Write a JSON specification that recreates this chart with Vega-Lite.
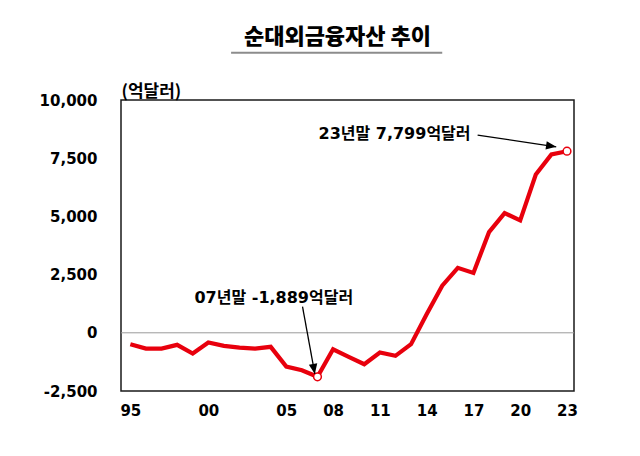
{
  "$schema": "https://vega.github.io/schema/vega-lite/v6.json",
  "width": 453,
  "height": 291,
  "autosize": {"type": "none"},
  "padding": {"left": 121, "top": 100, "right": 66, "bottom": 65},
  "background": "white",
  "config": {"view": {"stroke": "#1a1a1a", "strokeWidth": 1.5}},
  "title": {
    "text": "순대외금융자산 추이",
    "font": "Noto Sans CJK KR",
    "fontSize": 22,
    "fontWeight": 900,
    "color": "#000",
    "anchor": "middle",
    "frame": "group",
    "dx": -10,
    "baseline": "alphabetic",
    "offset": -14
  },
  "datasets": {
    "series": [
      {"year": 1995, "value": -490},
      {"year": 1996, "value": -677},
      {"year": 1997, "value": -677},
      {"year": 1998, "value": -517},
      {"year": 1999, "value": -892},
      {"year": 2000, "value": -418},
      {"year": 2001, "value": -560},
      {"year": 2002, "value": -634},
      {"year": 2003, "value": -677},
      {"year": 2004, "value": -603},
      {"year": 2005, "value": -1453},
      {"year": 2006, "value": -1608},
      {"year": 2007, "value": -1889},
      {"year": 2008, "value": -710},
      {"year": 2009, "value": -1030},
      {"year": 2010, "value": -1350},
      {"year": 2011, "value": -848},
      {"year": 2012, "value": -991},
      {"year": 2013, "value": -487},
      {"year": 2014, "value": 800},
      {"year": 2015, "value": 2026},
      {"year": 2016, "value": 2789},
      {"year": 2017, "value": 2573},
      {"year": 2018, "value": 4323},
      {"year": 2019, "value": 5142},
      {"year": 2020, "value": 4828},
      {"year": 2021, "value": 6797},
      {"year": 2022, "value": 7659},
      {"year": 2023, "value": 7799}
    ],
    "arrows": [
      {"id": "a07", "year": 2006.04, "value": 1121, "year2": 2006.83, "value2": -1767},
      {"id": "a23", "year": 2017.27, "value": 8491, "year2": 2022.31, "value2": 7987}
    ],
    "notes": [
      {"label": "07년말 -1,889억달러", "year": 2004.2, "value": 1509},
      {"label": "23년말 7,799억달러", "year": 2011.94, "value": 8534}
    ],
    "zero": [{"value": 0}],
    "underline": [{"year": 2001.46, "year2": 2015.0, "value": 12026}]
  },
  "layer": [
    {
      "data": {"name": "zero"},
      "mark": {"type": "rule", "color": "#9a9a9a", "strokeWidth": 1},
      "encoding": {
        "y": {
          "field": "value", "type": "quantitative",
          "scale": {"domain": [-2500, 10000], "nice": false, "zero": false},
          "axis": {
            "values": [-2500, 0, 2500, 5000, 7500, 10000],
            "labelExpr": "datum.value < 0 ? '-' + format(-datum.value, ',') : format(datum.value, ',')",
            "grid": false, "domain": false, "ticks": false, "tickSize": 0,
            "labelFont": "DejaVu Sans", "labelFontSize": 15, "labelFontWeight": "bold",
            "labelColor": "#000", "labelPadding": 24,
            "title": "(억달러)", "titleAngle": 0, "titleAlign": "left", "titleBaseline": "alphabetic",
            "titleX": 0, "titleY": -4, "titleFont": "Noto Sans CJK KR", "titleFontSize": 17,
            "titleFontWeight": "bold", "titleColor": "#000"
          }
        }
      }
    },
    {
      "data": {"name": "series"},
      "mark": {"type": "line", "color": "#e8000d", "strokeWidth": 4.2},
      "encoding": {
        "x": {
          "field": "year", "type": "quantitative",
          "scale": {"domain": [1994.4, 2023.45], "nice": false, "zero": false},
          "axis": {
            "values": [1995, 2000, 2005, 2008, 2011, 2014, 2017, 2020, 2023],
            "labelExpr": "slice(toString(datum.value), 2)",
            "title": null, "grid": false, "domain": false, "ticks": false, "tickSize": 0,
            "labelFont": "DejaVu Sans", "labelFontSize": 15, "labelFontWeight": "bold",
            "labelColor": "#000", "labelPadding": 12
          }
        },
        "y": {
          "field": "value", "type": "quantitative",
          "scale": {"domain": [-2500, 10000], "nice": false, "zero": false}
        }
      }
    },
    {
      "data": {"name": "series"},
      "transform": [{"filter": "datum.year == 2007 || datum.year == 2023"}],
      "mark": {"type": "point", "shape": "circle", "filled": true, "fill": "white", "stroke": "#e8000d", "strokeWidth": 1.5, "size": 60, "opacity": 1},
      "encoding": {
        "x": {"field": "year", "type": "quantitative", "scale": {"domain": [1994.4, 2023.45], "nice": false, "zero": false}},
        "y": {"field": "value", "type": "quantitative", "scale": {"domain": [-2500, 10000], "nice": false, "zero": false}}
      }
    },
    {
      "data": {"name": "arrows"},
      "mark": {"type": "rule", "color": "#000", "strokeWidth": 1.3},
      "encoding": {
        "x": {"field": "year", "type": "quantitative", "scale": {"domain": [1994.4, 2023.45], "nice": false, "zero": false}},
        "y": {"field": "value", "type": "quantitative", "scale": {"domain": [-2500, 10000], "nice": false, "zero": false}},
        "x2": {"field": "year2"},
        "y2": {"field": "value2"}
      }
    },
    {
      "data": {"name": "arrows"},
      "transform": [{"filter": "datum.id == 'a07'"}],
      "mark": {"type": "point", "shape": "M0,0 L-0.5,-1.2 L0.5,-1.2 Z", "filled": true, "color": "#000", "size": 289, "angle": 350, "opacity": 1},
      "encoding": {
        "x": {"field": "year2", "type": "quantitative", "scale": {"domain": [1994.4, 2023.45], "nice": false, "zero": false}},
        "y": {"field": "value2", "type": "quantitative", "scale": {"domain": [-2500, 10000], "nice": false, "zero": false}}
      }
    },
    {
      "data": {"name": "arrows"},
      "transform": [{"filter": "datum.id == 'a23'"}],
      "mark": {"type": "point", "shape": "M0,0 L-0.5,-1.2 L0.5,-1.2 Z", "filled": true, "color": "#000", "size": 289, "angle": 278.4, "opacity": 1},
      "encoding": {
        "x": {"field": "year2", "type": "quantitative", "scale": {"domain": [1994.4, 2023.45], "nice": false, "zero": false}},
        "y": {"field": "value2", "type": "quantitative", "scale": {"domain": [-2500, 10000], "nice": false, "zero": false}}
      }
    },
    {
      "data": {"name": "notes"},
      "mark": {"type": "text", "font": "'DejaVu Sans', 'Noto Sans CJK KR'", "fontSize": 16, "fontWeight": "bold", "color": "#000", "align": "center", "baseline": "middle"},
      "encoding": {
        "x": {"field": "year", "type": "quantitative", "scale": {"domain": [1994.4, 2023.45], "nice": false, "zero": false}},
        "y": {"field": "value", "type": "quantitative", "scale": {"domain": [-2500, 10000], "nice": false, "zero": false}},
        "text": {"field": "label"}
      }
    },
    {
      "data": {"name": "underline"},
      "mark": {"type": "rule", "color": "#8c8c8c", "strokeWidth": 2, "clip": false},
      "encoding": {
        "x": {"field": "year", "type": "quantitative", "scale": {"domain": [1994.4, 2023.45], "nice": false, "zero": false}},
        "x2": {"field": "year2"},
        "y": {"field": "value", "type": "quantitative", "scale": {"domain": [-2500, 10000], "nice": false, "zero": false}}
      }
    }
  ]
}
